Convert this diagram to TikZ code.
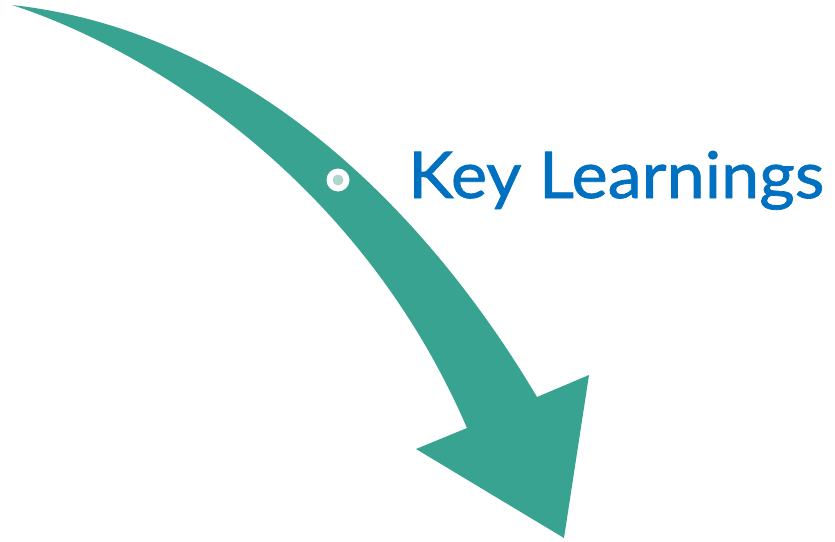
\documentclass[tikz,border=0pt]{standalone}
\usepackage{fontspec}
\setmainfont{Lato}
\newfontfamily\titlefont{Lato}[FakeStretch=1.06,FakeBold=1.2]
\usepackage{tikz}
\definecolor{arrowteal}{RGB}{56,163,145}
\definecolor{dotmint}{RGB}{178,214,205}
\definecolor{keyblue}{RGB}{0,112,192}
\begin{document}
\begin{tikzpicture}[x=1pt,y=-1pt]
    \useasboundingbox (0,0) rectangle (835,541);
    \fill[color=arrowteal] (12,5) .. controls (240,30) and (420,200) .. (537,397)
      -- (589,375) -- (564,538) -- (416,449) -- (467,428)
      .. controls (360,180) and (150,50) .. (12,5) -- cycle;
    \node[circle,fill=white,minimum size=23,inner sep=0] (dot) at (338,180) {};
    \node[circle,fill=dotmint,minimum size=11,inner sep=0] (dotcore) at (dot) {};
    \node[anchor=base west,inner sep=0,text=keyblue,font=\titlefont\fontsize{64.5}{64.5}\selectfont] (title) at (408,198) {Key Learnings};
  \end{tikzpicture}
\end{document}
